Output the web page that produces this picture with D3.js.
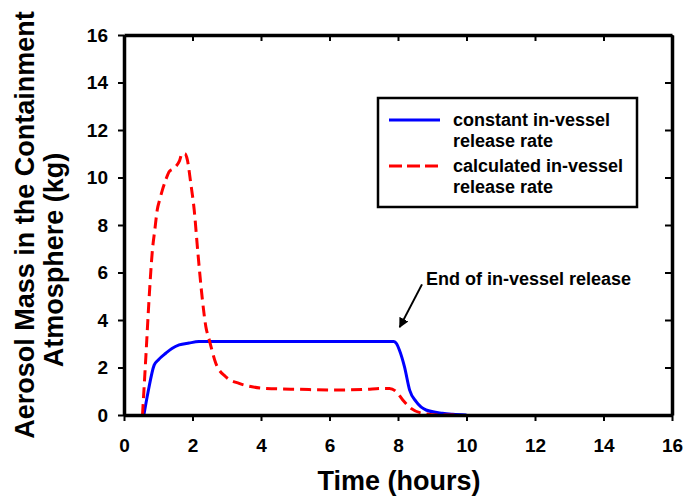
<!DOCTYPE html>
<html>
<head>
<meta charset="utf-8">
<script src="https://cdn.jsdelivr.net/npm/d3@7"></script>
<style>
  html, body { margin: 0; padding: 0; background: #fff; }
  svg { display: block; }
  text { font-family: "Liberation Sans", Arial, Helvetica, sans-serif; font-weight: bold; fill: #000; }
</style>
</head>
<body>
<svg id="chart" width="686" height="503"></svg>
<script>
// ---- data ----
const xTicks = [0, 2, 4, 6, 8, 10, 12, 14, 16];
const yTicks = [0, 2, 4, 6, 8, 10, 12, 14, 16];

const constTime = [0.58, 0.70, 0.88, 1.00, 1.22, 1.40, 1.61, 1.90, 2.19, 2.50, 3.0, 4.0, 5.0, 6.0, 7.0, 7.88, 7.96, 8.04, 8.19, 8.34, 8.53, 8.82, 9.30, 9.60, 10.0];
const constMass = [0.0, 0.95, 2.10, 2.32, 2.60, 2.80, 2.95, 3.03, 3.09, 3.10, 3.10, 3.10, 3.10, 3.10, 3.10, 3.10, 3.0, 2.74, 2.03, 1.05, 0.56, 0.21, 0.07, 0.03, 0.0];

const calcTime = [0.54, 0.64, 0.73, 0.83, 0.90, 0.97, 1.05, 1.12, 1.22, 1.32, 1.42, 1.51, 1.62, 1.70, 1.78, 1.85, 1.95, 2.05, 2.15, 2.29, 2.39, 2.49, 2.68, 2.97, 3.36, 3.70, 4.14, 5.12, 6.10, 7.07, 7.50, 7.75, 7.95, 8.14, 8.38, 8.73, 9.30, 9.80];
const calcMass = [0.0, 2.50, 4.84, 6.95, 7.80, 8.63, 9.10, 9.47, 9.90, 10.25, 10.35, 10.46, 10.70, 11.02, 11.00, 10.74, 9.75, 8.63, 6.95, 4.84, 3.72, 3.16, 2.18, 1.61, 1.33, 1.20, 1.12, 1.08, 1.05, 1.08, 1.12, 1.12, 0.98, 0.63, 0.28, 0.07, 0.0, 0.0];

const seriesNames = ["constant in-vessel\nrelease rate", "calculated in-vessel\nrelease rate"];
const seriesColors = ["#0000FF", "#FF0000"];
const xTitle = "Time (hours)";
const yTitleLines = ["Aerosol Mass in the Containment", "Atmosphere (kg)"];
const annotationText = "End of in-vessel release";

// ---- layout ----
const svg = d3.select("#chart");
const L = 124, R = 672, T = 35, B = 415;

const x = d3.scaleLinear().domain([0, 16]).range([L, R]);
const y = d3.scaleLinear().domain([0, 16]).range([B, T]);

const defs = svg.append("defs");
defs.append("marker")
  .attr("id", "arrowhead")
  .attr("viewBox", "0 0 10 10")
  .attr("refX", 9).attr("refY", 5)
  .attr("markerWidth", 5).attr("markerHeight", 5)
  .attr("markerUnits", "strokeWidth")
  .attr("orient", "auto")
  .append("path").attr("d", "M0,0 L10,5 L0,10 Z").attr("fill", "#000");

// curves
const line = d3.line().x(d => x(d[0])).y(d => y(d[1])).curve(d3.curveMonotoneX);
const constData = constTime.map((t, i) => [t, constMass[i]]);
const calcData = calcTime.map((t, i) => [t, calcMass[i]]);

svg.append("path").datum(constData)
  .attr("d", line).attr("fill", "none")
  .attr("stroke", seriesColors[0]).attr("stroke-width", 3);

svg.append("path").datum(calcData)
  .attr("d", line).attr("fill", "none")
  .attr("stroke", seriesColors[1]).attr("stroke-width", 3)
  .attr("stroke-dasharray", "11,6");

// axes
function styleAxis(g) {
  g.select(".domain").attr("stroke", "#000").attr("stroke-width", 3.5);
  g.selectAll(".tick line").attr("stroke", "#000").attr("stroke-width", 2);
  g.selectAll(".tick text")
    .style("font-family", '"Liberation Sans", Arial, sans-serif')
    .style("font-weight", "bold").attr("fill", "#000");
}

svg.append("g").attr("transform", `translate(0,${B})`)
  .call(d3.axisBottom(x).tickValues(xTicks).tickSizeInner(6).tickSizeOuter(0).tickPadding(18).tickFormat(d3.format("d")))
  .call(styleAxis)
  .call(g => g.selectAll(".tick text").style("font-size", "19px"));

svg.append("g").attr("transform", `translate(${L},0)`)
  .call(d3.axisLeft(y).tickValues(yTicks).tickSizeInner(6).tickSizeOuter(0).tickPadding(10).tickFormat(d3.format("d")))
  .call(styleAxis)
  .call(g => g.selectAll(".tick text").style("font-size", "19px"));

svg.append("g").attr("transform", `translate(0,${T})`)
  .call(d3.axisTop(x).tickValues(xTicks).tickSizeInner(-6).tickSizeOuter(0).tickFormat(""))
  .call(styleAxis);

svg.append("g").attr("transform", `translate(${R},0)`)
  .call(d3.axisRight(y).tickValues(yTicks).tickSizeInner(-7).tickSizeOuter(0).tickFormat(""))
  .call(styleAxis);

// axis titles
svg.append("text")
  .attr("x", 399).attr("y", 490)
  .attr("text-anchor", "middle")
  .style("font-size", "27px")
  .text(xTitle);

svg.append("text")
  .attr("transform", "translate(34,225) rotate(-90)")
  .attr("text-anchor", "middle")
  .style("font-size", "27px")
  .text(yTitleLines[0]);

svg.append("text")
  .attr("transform", "translate(63,260) rotate(-90)")
  .attr("text-anchor", "middle")
  .style("font-size", "27px")
  .text(yTitleLines[1]);

// legend
const leg = svg.append("g");
leg.append("rect")
  .attr("x", 378).attr("y", 98).attr("width", 259).attr("height", 109)
  .attr("fill", "#fff").attr("stroke", "#000").attr("stroke-width", 2.5);

const legRows = [
  { y: 120, textY: 126, dash: null },
  { y: 166, textY: 172, dash: "13,5" }
];
legRows.forEach((r, i) => {
  leg.append("line")
    .attr("x1", 389).attr("x2", 440).attr("y1", r.y).attr("y2", r.y)
    .attr("stroke", seriesColors[i]).attr("stroke-width", 3)
    .attr("stroke-dasharray", r.dash);
  const lines = seriesNames[i].split("\n");
  lines.forEach((s, j) => {
    leg.append("text")
      .attr("x", 453).attr("y", r.textY + j * 21)
      .style("font-size", "18px")
      .text(s);
  });
});

// annotation
svg.append("text")
  .attr("x", 426).attr("y", 285)
  .style("font-size", "18px")
  .text(annotationText);

svg.append("line")
  .attr("x1", x(8.7)).attr("y1", y(5.5))
  .attr("x2", x(8.05)).attr("y2", y(3.7))
  .attr("stroke", "#000").attr("stroke-width", 2)
  .attr("marker-end", "url(#arrowhead)");
</script>
</body>
</html>
